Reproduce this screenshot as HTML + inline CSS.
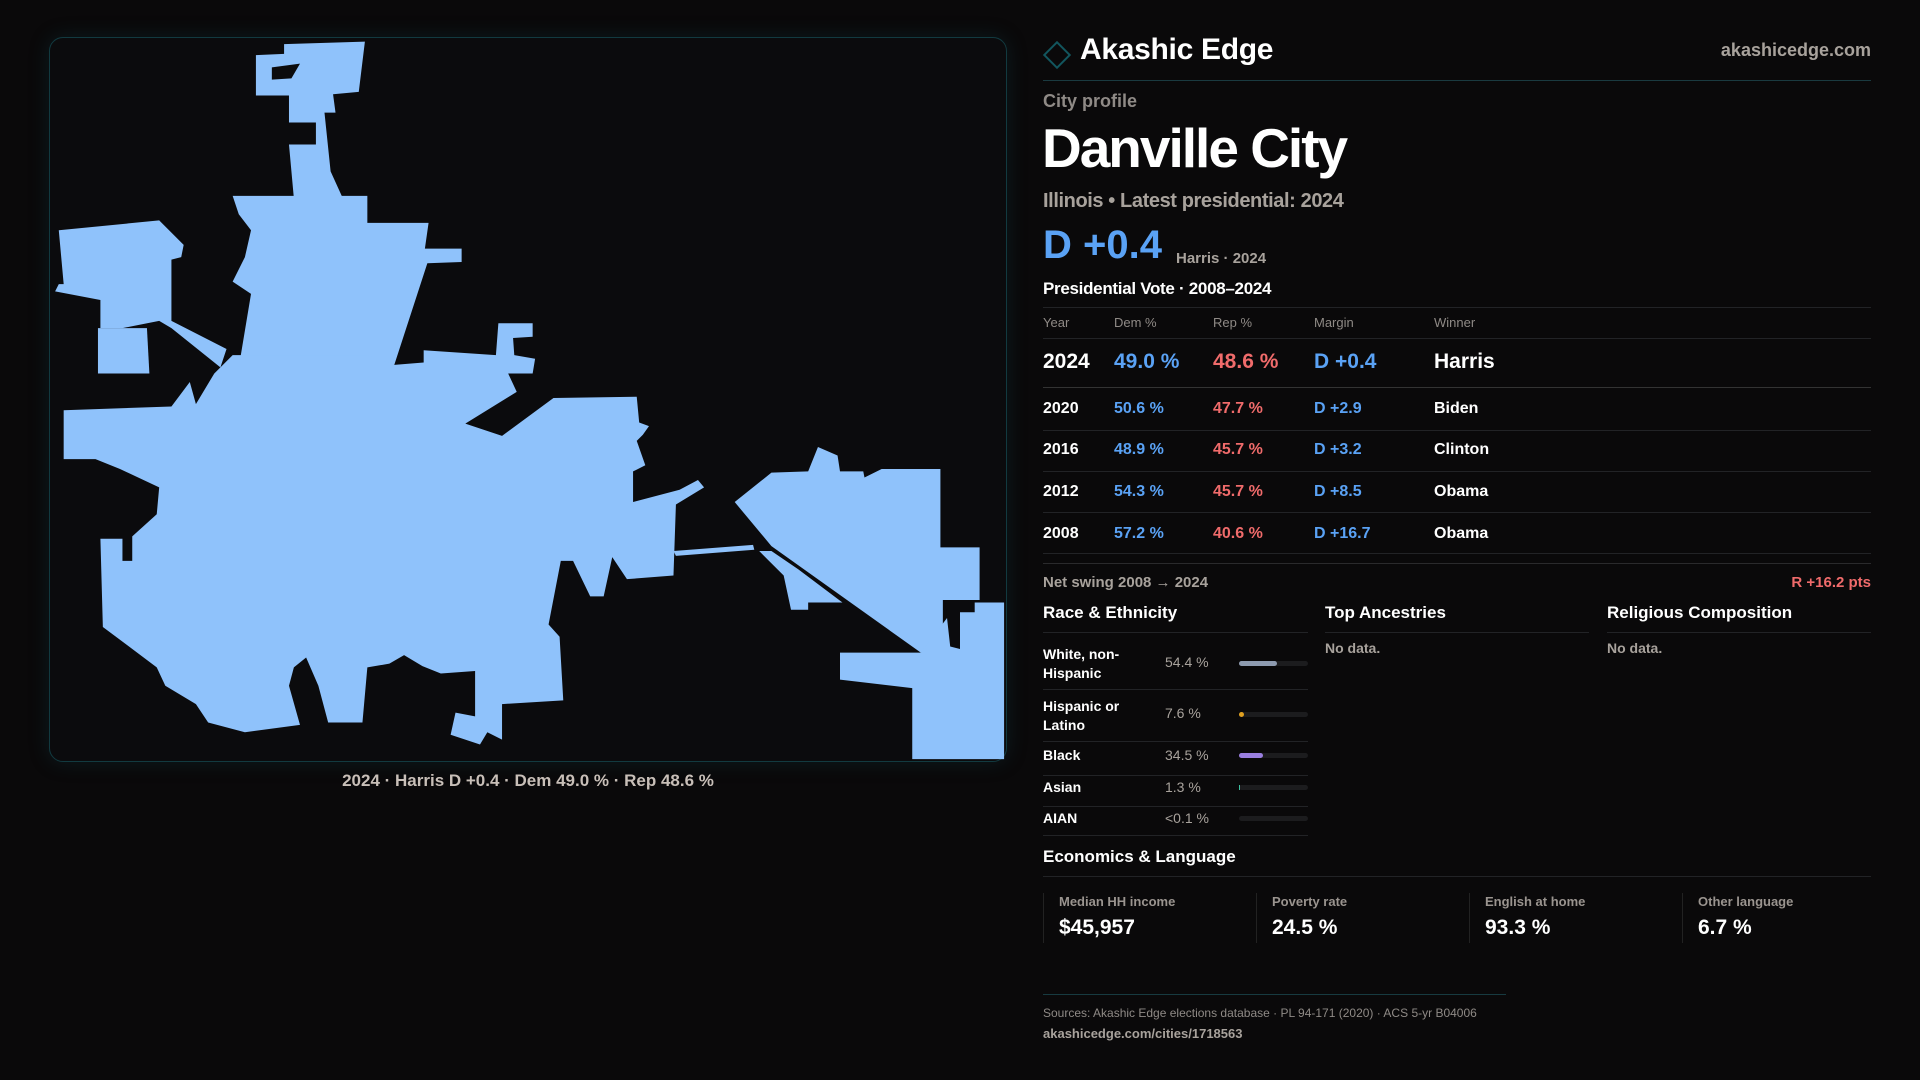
<!DOCTYPE html>
<html><head><meta charset="utf-8"><style>
*{margin:0;padding:0;box-sizing:border-box}
body{width:1920px;height:1080px;background:#0a090a;font-family:"Liberation Sans",sans-serif;color:#fff;position:relative;overflow:hidden}
.a{position:absolute;white-space:nowrap}
.hl{position:absolute;height:1px;background:#222326}
.g{color:#a8a29c}
.b{color:#5aa2f5}
.r{color:#f06b6b}
.t{font-size:16px;font-weight:bold}
</style></head><body>
<div class="a" style="left:49px;top:37px;width:958px;height:725px;border:1px solid #123a40;border-radius:14px;background:#0b0b0d;box-shadow:0 0 20px rgba(20,80,90,0.25)"></div>
<svg class="a" style="left:0;top:0" width="1920" height="1080" viewBox="0 0 1568 882">
<g fill="#8fc2fb">
<polygon points="232,36 298,34 293,75 272,77 274,92 265,92 270,140 280,162 262,162 240,162 236,118 258,118 258,100 236,100 236,78 209,78 209,45 232,44"/>
<polygon points="190,160 300,160 300,182 350,182 347,203 377,203 377,214 349,215 322,298 300,300 290,330 190,330 205,240 190,230 200,210 205,188 195,175"/>
<polygon points="48,188 130,180 150,200 148,210 140,212 140,262 185,285 180,300 140,268 130,262 100,268 82,268 82,245 45,238 48,232 52,232"/>
<polygon points="80,268 120,268 122,305 80,305"/>
<polygon points="52,335 140,332 155,312 160,330 175,305 190,290 300,290 322,298 346,296 346,286 405,290 407,264 435,264 435,275 419,276 420,290 437,293 435,305 415,305 422,320 380,346 410,356 452,325 520,324 522,345 530,348 525,355 520,360 527,380 517,385 517,410 555,400 570,392 575,398 552,412 550,470 512,473 500,455 493,487 482,487 468,458 458,458 448,510 457,520 460,572 410,575 410,604 398,598 392,608 368,600 372,582 388,585 388,548 360,550 345,544 330,535 318,542 300,545 296,590 268,590 260,560 250,537 240,545 236,560 245,592 200,598 170,590 160,575 135,560 128,545 84,512 82,440 100,440 100,458 108,458 108,438 128,420 130,398 98,383 78,375 52,375"/>
<polygon points="550,450 615,445 616,449 552,454"/>
<polygon points="600,410 630,386 660,385 668,365 684,372 686,385 705,385 706,390 720,383 768,383 768,447 800,447 800,490 770,490 770,520 752,533 630,446"/>
<polygon points="620,450 630,450 652,465 688,492 660,492 660,498 646,498 640,470 628,458"/>
<polygon points="686,533 752,533 783,492 820,492 820,620 745,620 745,562 686,555"/>
</g>
<g fill="#0b0b0d">
<polygon points="222,55 245,52 238,64 222,65"/>
<polygon points="772,492 796,492 796,500 784,500 784,530 776,528"/>
</g>
</svg>
<div class="a g" style="left:49px;width:958px;top:771px;text-align:center;font-size:17px;font-weight:bold;color:#c8bfb8">2024 · Harris D +0.4 · Dem 49.0 % · Rep 48.6 %</div>

<div class="a" style="left:1047px;top:45px;width:20px;height:20px;border:2px solid #12565e;transform:rotate(45deg)"></div>
<div class="a" style="left:1080px;top:33px;font-size:30px;font-weight:bold;letter-spacing:-0.3px">Akashic Edge</div>
<div class="a g" style="right:49px;top:40px;font-size:18px;font-weight:bold">akashicedge.com</div>
<div class="hl" style="left:1043px;width:828px;top:80px;background:#1a3a40"></div>
<div class="a g" style="left:1043px;top:91px;font-size:18px;font-weight:bold;color:#8f8a86">City profile</div>
<div class="a" style="left:1042px;top:116px;font-size:55px;font-weight:bold;letter-spacing:-2px">Danville City</div>
<div class="a g" style="left:1043px;top:190px;font-size:20px;font-weight:bold;letter-spacing:-0.4px">Illinois • Latest presidential: 2024</div>
<div class="a b" style="left:1043px;top:223px;font-size:40px;font-weight:bold">D +0.4</div>
<div class="a g" style="left:1176px;top:250px;font-size:15px;font-weight:bold">Harris · 2024</div>
<div class="a" style="left:1043px;top:279px;font-size:17px;font-weight:bold;letter-spacing:-0.3px">Presidential Vote · 2008–2024</div>
<div class="hl" style="left:1043px;width:828px;top:307px"></div>
<div class="a g" style="left:1043px;top:315px;font-size:13px;color:#8f8a86">Year</div>
<div class="a g" style="left:1114px;top:315px;font-size:13px;color:#8f8a86">Dem %</div>
<div class="a g" style="left:1213px;top:315px;font-size:13px;color:#8f8a86">Rep %</div>
<div class="a g" style="left:1314px;top:315px;font-size:13px;color:#8f8a86">Margin</div>
<div class="a g" style="left:1434px;top:315px;font-size:13px;color:#8f8a86">Winner</div>
<div class="hl" style="left:1043px;width:828px;top:338px"></div>
<div class="a" style="left:1043px;top:350px;font-size:21px;font-weight:bold">2024</div>
<div class="a b" style="left:1114px;top:350px;font-size:21px;font-weight:bold">49.0 %</div>
<div class="a r" style="left:1213px;top:350px;font-size:21px;font-weight:bold">48.6 %</div>
<div class="a b" style="left:1314px;top:350px;font-size:21px;font-weight:bold">D +0.4</div>
<div class="a" style="left:1434px;top:350px;font-size:21px;font-weight:bold">Harris</div>
<div class="hl" style="left:1043px;width:828px;top:387px;background:#333"></div>
<div class="a t" style="left:1043px;top:400px">2020</div><div class="a t b" style="left:1114px;top:400px">50.6 %</div><div class="a t r" style="left:1213px;top:400px">47.7 %</div><div class="a t b" style="left:1314px;top:400px">D +2.9</div><div class="a t" style="left:1434px;top:400px">Biden</div>
<div class="hl" style="left:1043px;width:828px;top:430px"></div>
<div class="a t" style="left:1043px;top:441px">2016</div><div class="a t b" style="left:1114px;top:441px">48.9 %</div><div class="a t r" style="left:1213px;top:441px">45.7 %</div><div class="a t b" style="left:1314px;top:441px">D +3.2</div><div class="a t" style="left:1434px;top:441px">Clinton</div>
<div class="hl" style="left:1043px;width:828px;top:471px"></div>
<div class="a t" style="left:1043px;top:483px">2012</div><div class="a t b" style="left:1114px;top:483px">54.3 %</div><div class="a t r" style="left:1213px;top:483px">45.7 %</div><div class="a t b" style="left:1314px;top:483px">D +8.5</div><div class="a t" style="left:1434px;top:483px">Obama</div>
<div class="hl" style="left:1043px;width:828px;top:512px"></div>
<div class="a t" style="left:1043px;top:525px">2008</div><div class="a t b" style="left:1114px;top:525px">57.2 %</div><div class="a t r" style="left:1213px;top:525px">40.6 %</div><div class="a t b" style="left:1314px;top:525px">D +16.7</div><div class="a t" style="left:1434px;top:525px">Obama</div>
<div class="hl" style="left:1043px;width:828px;top:553px"></div>
<div class="hl" style="left:1043px;width:828px;top:563px;background:#2a2a2c"></div>
<div class="a g" style="left:1043px;top:574px;font-size:15px;font-weight:bold">Net swing 2008 → 2024</div>
<div class="a r" style="right:49px;top:574px;font-size:15px;font-weight:bold">R +16.2 pts</div>

<div class="a" style="left:1043px;top:603px;font-size:17px;font-weight:bold">Race &amp; Ethnicity</div>
<div class="a" style="left:1325px;top:603px;font-size:17px;font-weight:bold">Top Ancestries</div>
<div class="a" style="left:1607px;top:603px;font-size:17px;font-weight:bold">Religious Composition</div>
<div class="hl" style="left:1043px;width:265px;top:632px"></div>
<div class="hl" style="left:1325px;width:264px;top:632px"></div>
<div class="hl" style="left:1607px;width:264px;top:632px"></div>
<div class="a g" style="left:1325px;top:640px;font-size:14px;font-weight:bold">No data.</div>
<div class="a g" style="left:1607px;top:640px;font-size:14px;font-weight:bold">No data.</div>

<div class="a" style="left:1043px;top:645px;font-size:14px;font-weight:bold;line-height:19px">White, non-<br>Hispanic</div>
<div class="a g" style="left:1165px;top:654px;font-size:14px">54.4 %</div>
<div class="a" style="left:1239px;top:661px;width:69px;height:5px;border-radius:3px;background:#1c1c1e"><div style="width:38px;height:5px;border-radius:3px;background:#8e9bb0"></div></div>
<div class="hl" style="left:1043px;width:265px;top:689px"></div>
<div class="a" style="left:1043px;top:697px;font-size:14px;font-weight:bold;line-height:19px">Hispanic or<br>Latino</div>
<div class="a g" style="left:1165px;top:705px;font-size:14px">7.6 %</div>
<div class="a" style="left:1239px;top:712px;width:69px;height:5px;border-radius:3px;background:#1c1c1e"><div style="width:5px;height:5px;border-radius:3px;background:#e0a020"></div></div>
<div class="hl" style="left:1043px;width:265px;top:741px"></div>
<div class="a" style="left:1043px;top:747px;font-size:14px;font-weight:bold">Black</div>
<div class="a g" style="left:1165px;top:747px;font-size:14px">34.5 %</div>
<div class="a" style="left:1239px;top:753px;width:69px;height:5px;border-radius:3px;background:#1c1c1e"><div style="width:24px;height:5px;border-radius:3px;background:#9a7fe0"></div></div>
<div class="hl" style="left:1043px;width:265px;top:775px"></div>
<div class="a" style="left:1043px;top:779px;font-size:14px;font-weight:bold">Asian</div>
<div class="a g" style="left:1165px;top:779px;font-size:14px">1.3 %</div>
<div class="a" style="left:1239px;top:785px;width:69px;height:5px;border-radius:3px;background:#1c1c1e"><div style="width:1px;height:5px;background:#3cc0a0"></div></div>
<div class="hl" style="left:1043px;width:265px;top:806px"></div>
<div class="a" style="left:1043px;top:810px;font-size:14px;font-weight:bold">AIAN</div>
<div class="a g" style="left:1165px;top:810px;font-size:14px">&lt;0.1 %</div>
<div class="a" style="left:1239px;top:816px;width:69px;height:5px;border-radius:3px;background:#1c1c1e"></div>
<div class="hl" style="left:1043px;width:265px;top:835px"></div>

<div class="a" style="left:1043px;top:847px;font-size:17px;font-weight:bold">Economics &amp; Language</div>
<div class="hl" style="left:1043px;width:828px;top:876px"></div>
<div class="a" style="left:1043px;top:893px;width:1px;height:50px;background:#222"></div>
<div class="a" style="left:1256px;top:893px;width:1px;height:50px;background:#222"></div>
<div class="a" style="left:1469px;top:893px;width:1px;height:50px;background:#222"></div>
<div class="a" style="left:1682px;top:893px;width:1px;height:50px;background:#222"></div>
<div class="a g" style="left:1059px;top:894px;font-size:13px;font-weight:bold;color:#9a948f">Median HH income</div>
<div class="a g" style="left:1272px;top:894px;font-size:13px;font-weight:bold;color:#9a948f">Poverty rate</div>
<div class="a g" style="left:1485px;top:894px;font-size:13px;font-weight:bold;color:#9a948f">English at home</div>
<div class="a g" style="left:1698px;top:894px;font-size:13px;font-weight:bold;color:#9a948f">Other language</div>
<div class="a" style="left:1059px;top:916px;font-size:21px;font-weight:bold">$45,957</div>
<div class="a" style="left:1272px;top:916px;font-size:21px;font-weight:bold">24.5 %</div>
<div class="a" style="left:1485px;top:916px;font-size:21px;font-weight:bold">93.3 %</div>
<div class="a" style="left:1698px;top:916px;font-size:21px;font-weight:bold">6.7 %</div>

<div class="hl" style="left:1043px;width:463px;top:994px;background:#173a40"></div>
<div class="a g" style="left:1043px;top:1006px;font-size:12px;color:#8f8a86">Sources: Akashic Edge elections database · PL 94-171 (2020) · ACS 5-yr B04006</div>
<div class="a g" style="left:1043px;top:1026px;font-size:13px;font-weight:bold">akashicedge.com/cities/1718563</div>
</body></html>
